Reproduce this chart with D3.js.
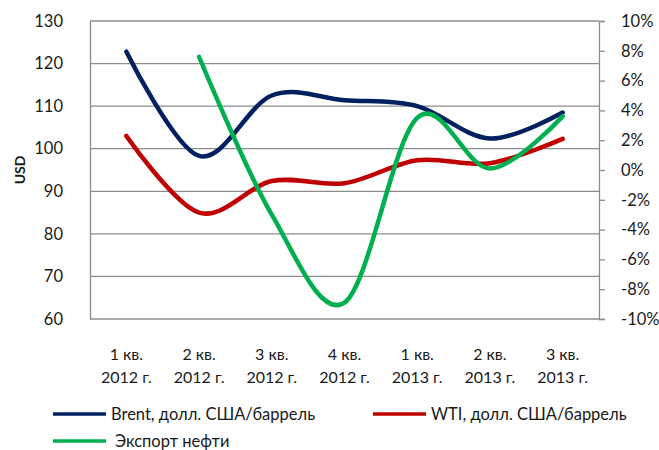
<!DOCTYPE html>
<html>
<head>
<meta charset="utf-8">
<script src="https://cdn.jsdelivr.net/npm/d3@7"></script>
<style>
  body { margin: 0; background: #fff; }
  text { font-family: Lato, "Open Sans", sans-serif; fill: #1a1a1a; }
</style>
</head>
<body>
<div id="chart"></div>
<script>
// quarters (two-line labels)
var quarters = ["1 кв.", "2 кв.", "3 кв.", "4 кв.", "1 кв.", "2 кв.", "3 кв."];
var years = ["2012 г.", "2012 г.", "2012 г.", "2012 г.", "2013 г.", "2013 г.", "2013 г."];

// prices, USD per barrel (left axis)
var brent = [122.8, 98.3, 112.5, 111.4, 110.0, 102.4, 108.5];
var wti = [103.0, 85.0, 92.4, 91.9, 97.3, 96.6, 102.3];

// oil export growth, % (right axis), no value for the first quarter
var oilExport = [null, 7.6, -3.0, -8.9, 3.5, 0.1, 3.6];

var leftTicks = [60, 70, 80, 90, 100, 110, 120, 130];
var rightTicks = [-10, -8, -6, -4, -2, 0, 2, 4, 6, 8, 10];

var legendNames = ["Brent, долл. США/баррель", "WTI, долл. США/баррель", "Экспорт нефти"];

// set the dimensions and margins of the graph
var margin = { top: 21, right: 60, bottom: 131, left: 90 },
  width = 659 - margin.left - margin.right,
  height = 450 - margin.top - margin.bottom;

var svg = d3.select("#chart").append("svg")
  .attr("width", 659)
  .attr("height", 450);

var g = svg.append("g")
  .attr("transform", "translate(" + margin.left + "," + margin.top + ")");

// set the ranges
var x = d3.scaleBand().domain(d3.range(quarters.length)).range([0, width]);
var cx = function (i) { return x(i) + x.bandwidth() / 2; };
var y = d3.scaleLinear().domain([60, 130]).range([height, 0]);
var y2 = d3.scaleLinear().domain([-10, 10]).range([height, 0]);

// horizontal gridlines
g.selectAll(".grid")
  .data(leftTicks)
  .enter().append("line")
  .attr("x1", 0)
  .attr("x2", width)
  .attr("y1", function (d) { return y(d); })
  .attr("y2", function (d) { return y(d); })
  .attr("stroke", "#8c8c8c")
  .attr("stroke-width", 1.3);

// left axis
var leftAxis = g.append("g")
  .call(d3.axisLeft(y).tickValues(leftTicks).tickSize(0).tickPadding(27));
leftAxis.select(".domain").attr("stroke", "#8c8c8c").attr("stroke-width", 1.3);
leftAxis.selectAll("text").style("font-size", "16.5px");

// right axis
var rightAxis = g.append("g")
  .attr("transform", "translate(" + width + ",0)")
  .call(d3.axisRight(y2).tickValues(rightTicks).tickSize(6).tickPadding(16)
    .tickFormat(function (d) { return d + "%"; }));
rightAxis.select(".domain").attr("stroke", "#8c8c8c").attr("stroke-width", 1.3);
rightAxis.selectAll(".tick line").attr("stroke", "#8c8c8c").attr("stroke-width", 1.3);
rightAxis.selectAll("text").style("font-size", "16.5px");

// x labels
var xl = g.selectAll(".xlab")
  .data(quarters)
  .enter().append("text")
  .attr("text-anchor", "middle")
  .style("font-size", "16px");
xl.append("tspan")
  .attr("x", function (d, i) { return cx(i); })
  .attr("y", height + 41)
  .text(function (d) { return d; });
xl.append("tspan")
  .attr("x", function (d, i) { return cx(i); })
  .attr("y", height + 64)
  .text(function (d, i) { return years[i]; });

// text label for the y axis
svg.append("text")
  .attr("transform", "translate(25," + (margin.top + height / 2) + ") rotate(-90)")
  .attr("text-anchor", "middle")
  .style("font-size", "14px")
  .style("font-weight", "bold")
  .text("USD");

// smoothed lines
var lineLeft = d3.line()
  .x(function (d, i) { return cx(i); })
  .y(function (d) { return y(d); })
  .curve(d3.curveCatmullRom.alpha(0));

var lineRight = d3.line()
  .defined(function (d) { return d !== null; })
  .x(function (d, i) { return cx(i); })
  .y(function (d) { return y2(d); })
  .curve(d3.curveCatmullRom.alpha(0));

g.append("path").datum(brent)
  .attr("fill", "none").attr("stroke", "#002060").attr("stroke-width", 4.5)
  .attr("stroke-linecap", "round").attr("d", lineLeft);

g.append("path").datum(wti)
  .attr("fill", "none").attr("stroke", "#c00000").attr("stroke-width", 4.5)
  .attr("stroke-linecap", "round").attr("d", lineLeft);

g.append("path").datum(oilExport)
  .attr("fill", "none").attr("stroke", "#00b050").attr("stroke-width", 4.5)
  .attr("stroke-linecap", "round").attr("d", lineRight);

// legend
var legendColors = ["#002060", "#c00000", "#00b050"];
var legendPos = [[53, 414], [373, 414], [53, 441]];
var lg = svg.selectAll(".legend")
  .data(legendNames)
  .enter().append("g")
  .attr("transform", function (d, i) { return "translate(" + legendPos[i][0] + "," + legendPos[i][1] + ")"; });
lg.append("line")
  .attr("x1", 0).attr("x2", 53)
  .attr("stroke", function (d, i) { return legendColors[i]; })
  .attr("stroke-width", 3.5);
lg.append("text")
  .attr("x", function (d, i) { return i === 2 ? 62 : 58; })
  .attr("dy", "0.35em")
  .style("font-size", "16.5px")
  .text(function (d) { return d; });
</script>
</body>
</html>
